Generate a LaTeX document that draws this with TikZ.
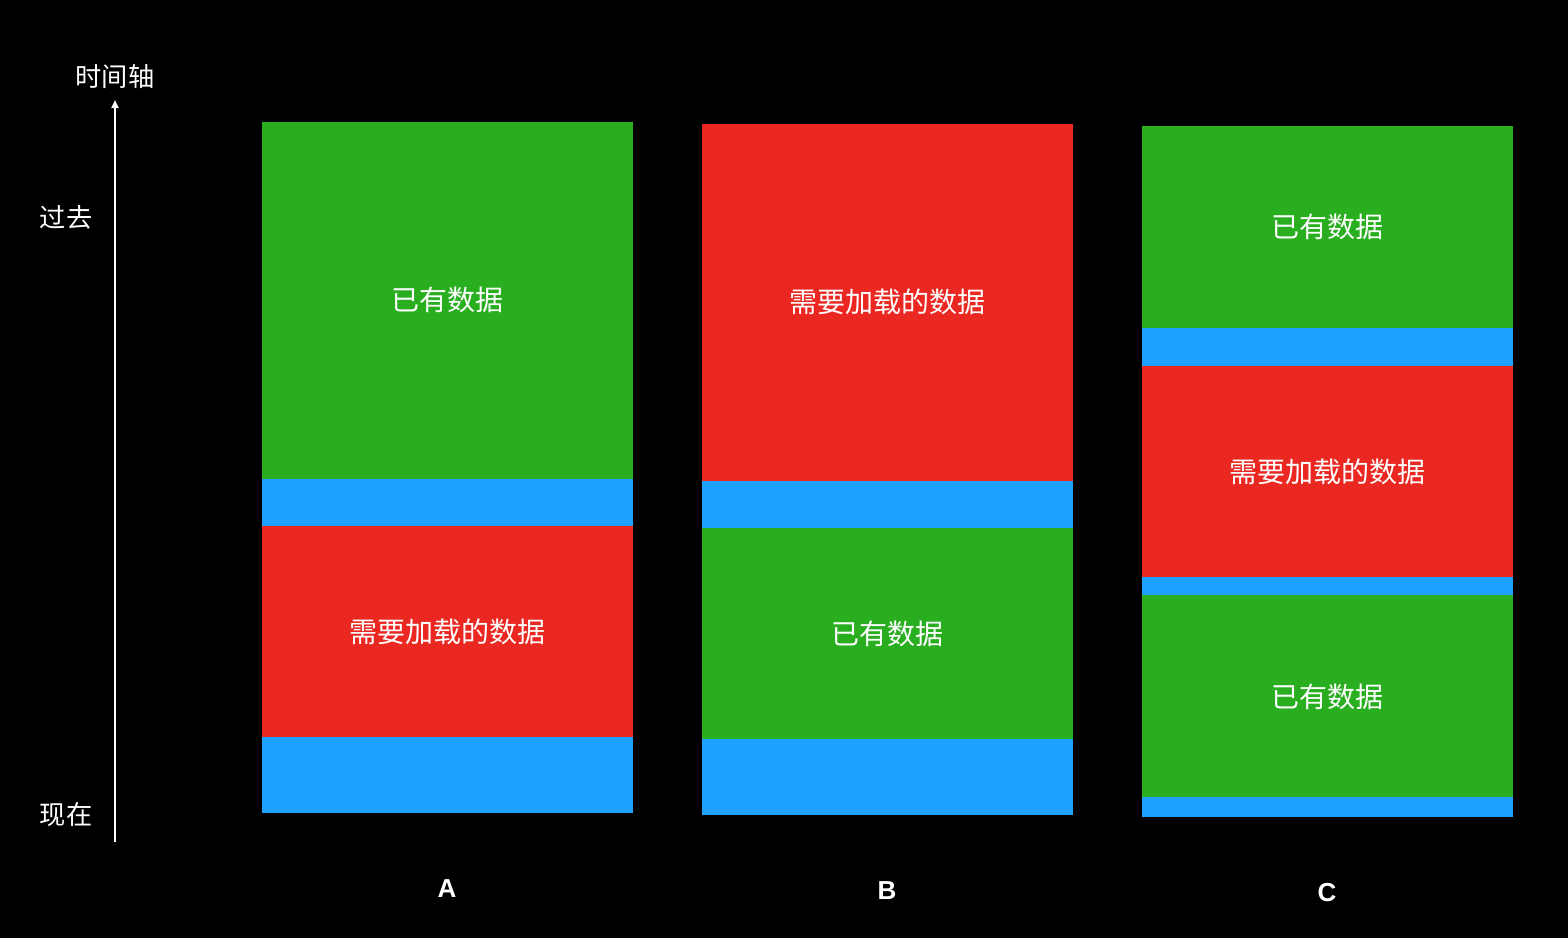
\documentclass[tikz,border=0pt]{standalone}
\usepackage{fontspec}
\setmainfont{Liberation Sans}
\newfontfamily\cjk{Noto Sans CJK SC}
\usetikzlibrary{arrows.meta}
\definecolor{bargreen}{RGB}{41,174,32}
\definecolor{barred}{RGB}{234,39,32}
\definecolor{barblue}{RGB}{31,161,255}
\tikzset{
  lbl/.style={text=white,font=\cjk\fontsize{14pt}{16pt}\selectfont,inner sep=0pt},
  axlbl/.style={text=white,font=\cjk\fontsize{13.1pt}{15pt}\selectfont,inner sep=0pt},
  colname/.style={text=white,font=\bfseries\fontsize{13pt}{15pt}\selectfont,inner sep=0pt},
  axis/.style={white,line width=1pt,-{Triangle[length=4pt,width=3.5pt]}}
}
\begin{document}
\begin{tikzpicture}[x=0.5pt,y=-0.5pt]
\fill[black] (0,0) rectangle (1568,938);
\useasboundingbox (0,0) rectangle (1568,938);
% column A
\fill[bargreen] (262,122) rectangle (633,479);
\fill[barblue] (262,479) rectangle (633,526);
\fill[barred] (262,526) rectangle (633,737);
\fill[barblue] (262,737) rectangle (633,813);
% column B
\fill[barred] (702,124) rectangle (1073,481);
\fill[barblue] (702,481) rectangle (1073,528);
\fill[bargreen] (702,528) rectangle (1073,739);
\fill[barblue] (702,739) rectangle (1073,815);
% column C
\fill[bargreen] (1142,126) rectangle (1513,328);
\fill[barblue] (1142,328) rectangle (1513,366);
\fill[barred] (1142,366) rectangle (1513,577);
\fill[barblue] (1142,577) rectangle (1513,595);
\fill[bargreen] (1142,595) rectangle (1513,797);
\fill[barblue] (1142,797) rectangle (1513,817);
% labels
\node[lbl] (a1) at (447,300) {已有数据};
\node[lbl] (a2) at (447,632) {需要加载的数据};
\node[lbl] (b1) at (887,302) {需要加载的数据};
\node[lbl] (b2) at (887,634) {已有数据};
\node[lbl] (c1) at (1327,227) {已有数据};
\node[lbl] (c2) at (1327,472) {需要加载的数据};
\node[lbl] (c3) at (1327,697) {已有数据};
\node[colname] (A) at (447,889) {A};
\node[colname] (B) at (887,891) {B};
\node[colname] (C) at (1327,893) {C};
% axis
\coordinate (ax0) at (115,842);
\coordinate (ax1) at (115,100);
\draw[axis] (ax0) -- (ax1);
\node[axlbl] (t) at (115,77) {时间轴};
\node[axlbl] (past) at (66,217) {过去};
\node[axlbl] (now) at (66,815) {现在};
\end{tikzpicture}
\end{document}
